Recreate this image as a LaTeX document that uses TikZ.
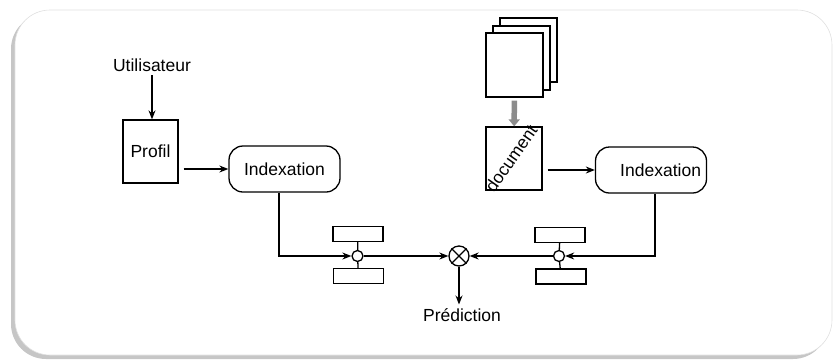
\documentclass[tikz,border=0pt]{standalone}
\usepackage{fontspec}
\setmainfont{Liberation Sans}
\usetikzlibrary{arrows.meta,shadows}

\begin{document}
\begin{tikzpicture}[x=1pt,y=-1pt,line width=1.3pt,>={Stealth[length=9pt,width=7pt]},
	font=\fontsize{17.5}{20}\selectfont,
	boite/.style={draw,minimum width=56pt,minimum height=63pt,inner sep=0pt},
	index/.style={draw,rounded corners=14pt,minimum width=111pt,minimum height=46pt,inner sep=0pt},
	tampon/.style={draw,minimum width=50pt,minimum height=15pt,inner sep=0pt},
	noeud/.style={draw,circle,minimum size=11pt,inner sep=0pt},
	page/.style={draw,fill=white,minimum width=57pt,minimum height=64pt,inner sep=0pt}]
				\useasboundingbox (0,0) rectangle (835,360);
				% cadre
				\path[fill=white,draw=black!12,line width=.6pt,rounded corners=35pt,
					drop shadow={shadow xshift=-4pt,shadow yshift=-4pt,opacity=.45}]
					(15,10) rectangle (832,355);
				% partie utilisateur
				\node (user) at (152,65) {Utilisateur};
				\node[boite,minimum width=55pt] (profil) at (150.5,151.5) {Profil};
				\node[index] (idx1) at (284.5,169) {Indexation};
				\node[tampon] (t1) at (358,234) {};
				\node[noeud] (c1) at (357.5,256) {};
				\node[tampon] (b1) at (358.5,276) {};
				% partie document
				\node[page] (p3) at (528.5,50) {};
				\node[page] (p2) at (521.5,58) {};
				\node[page] (p1) at (514.5,65) {};
				\node[boite] (doc) at (514,158.5) {};
				\node[rotate=55] (mot) at ([xshift=-3pt]doc.center) {document};
				\node[index,text width=100pt,align=right,inner xsep=5.5pt] (idx2) at (651,170) {Indexation};
				\node[tampon] (t2) at (560,235) {};
				\node[noeud] (c2) at (559,256) {};
				\node[tampon] (b2) at (561,276.5) {};
				% combinaison
				\node[draw,circle,minimum size=20pt,inner sep=0pt] (ot) at (459,256) {};
				\draw (ot.45) -- (ot.225) (ot.135) -- (ot.315);
				\node (pred) at (462,315) {Prédiction};
				\draw (t1) -- (c1) -- (b1) (t2) -- (c2) -- (b2);
				\draw[black!45,line width=5.5pt,-{Triangle[length=7pt,width=11pt]},shorten <=3pt] (p1) -- (doc);
				\path[->]
				(user) edge (user |- profil.north)
				(profil.east |- idx1) edge[shorten <=5pt] (idx1)
				(doc.east |- idx2) edge[shorten <=5pt] (idx2)
				(c1) edge (ot)
				(c2) edge (ot)
				(ot) edge (ot |- pred.north);
				\draw[->] ([xshift=-5.5pt]idx1.south) |- (c1);
				\draw[->] ([xshift=4pt]idx2.south) |- (c2);
			\end{tikzpicture}
\end{document}
